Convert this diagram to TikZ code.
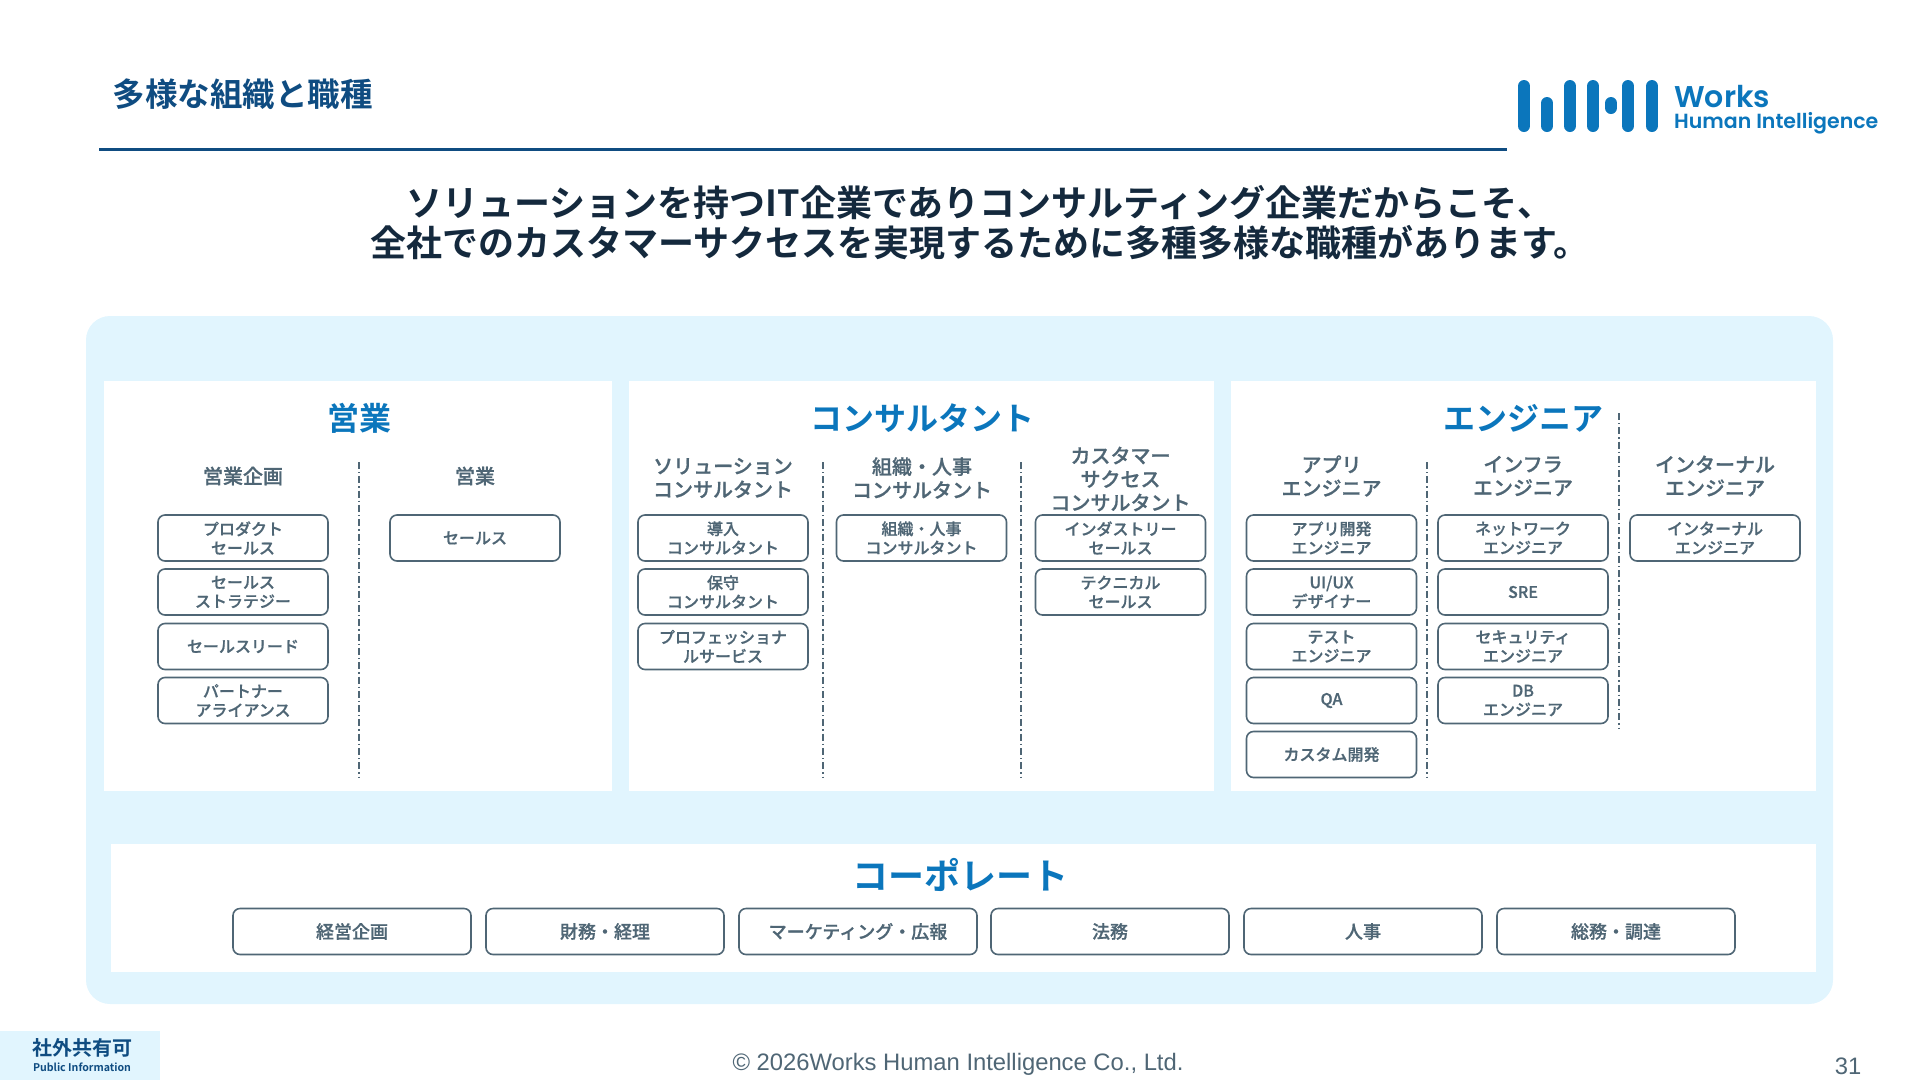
\documentclass[tikz,border=0pt]{standalone}
\usepackage{fontspec}
\setmainfont[BoldFont={Noto Sans CJK JP Bold}]{Noto Sans CJK JP}
\newfontfamily\medfont[FakeBold=0.7]{Noto Sans CJK JP Medium}
\newfontfamily\logofont{Poppins SemiBold}
\newfontfamily\footfont{Liberation Sans}
\usetikzlibrary{positioning}
\definecolor{navy}{HTML}{0F4C81}
\definecolor{brand}{HTML}{0B76BC}
\definecolor{ink}{HTML}{14293D}
\definecolor{slate}{HTML}{4F6675}
\definecolor{pale}{HTML}{E1F5FE}
\newcommand{\fs}[2]{\fontsize{#1}{#2}\selectfont}

\begin{document}
\begin{tikzpicture}[
  x=1pt, y=-1pt,
  every node/.style={inner sep=0pt, align=center},
  panel/.style={rectangle, fill=white, anchor=north west},
  sect/.style={font=\fs{32}{38}\bfseries, text=brand},
  head/.style={font=\medfont\fs{20}{23.5}, text=slate},
  job/.style={rectangle, draw=slate, line width=1.6pt, rounded corners=7pt, fill=white,
    minimum width=170pt, minimum height=46pt, font=\medfont\fs{16}{19}, text=slate},
  corp/.style={job, minimum width=238pt, font=\medfont\fs{18}{21}},
  sep/.style={draw=slate, line width=1.3pt, dash pattern=on 7pt off 3pt on 1.3pt off 3pt},
  bar/.style={draw=brand, line width=12pt, line cap=round}
]
\useasboundingbox (0,0) rectangle (1920,1080);

% --- header ---
\node[anchor=west, font=\fs{32.5}{38}\bfseries, text=navy] (ttl) at (112.5,94) {多様な組織と職種};
\coordinate (rulea) at (99,149);
\coordinate (ruleb) at (1507,149);
\draw[navy, line width=3pt] (rulea) -- (ruleb);
\node[font=\fs{36}{40}\bfseries, text=ink] (lead) at (980,223) {ソリューションを持つIT企業でありコンサルティング企業だからこそ、\\全社でのカスタマーサクセスを実現するために多種多様な職種があります。};

% --- logo ---
\draw[bar] (1524,86) -- (1524,126);
\draw[bar] (1547,103) -- (1547,126);
\draw[bar] (1570,86) -- (1570,126);
\draw[bar] (1593,86) -- (1593,126);
\draw[bar] (1611,103) -- (1611,108);
\draw[bar] (1628,86) -- (1628,126);
\draw[bar] (1652,86) -- (1652,126);
\node[anchor=base west, font=\logofont\fs{30}{31}, text=brand] (wks) at (1674,107) {Works};
\node[anchor=base west, font=\logofont\fs{20.5}{21}, text=brand] (whi) at (1674,128) {Human Intelligence};

% --- panels ---
\fill[pale, rounded corners=24pt] (86,316) rectangle (1833,1004);
\node[panel, minimum width=508pt, minimum height=410pt] (psales) at (104,381) {};
\node[panel, minimum width=585pt, minimum height=410pt] (pcons) at (629,381) {};
\node[panel, minimum width=585pt, minimum height=410pt] (peng) at (1231,381) {};
\node[panel, minimum width=1705pt, minimum height=128pt] (pcorp) at (111,844) {};

% --- section titles ---
\node[sect] (tsales) at (359,418) {営業};
\node[sect] (tcons) at (922,418) {コンサルタント};
\node[sect] (teng) at (1523,418) {エンジニア};
\node[sect, font=\fs{36}{40}\bfseries] (tcorp) at (960,875) {コーポレート};

% --- column heads ---
\node[head] (h1) at (243,476) {営業企画};
\node[head] (h2) at (475,476) {営業};
\node[head] (h3) at (723,478) {ソリューション\\コンサルタント};
\node[head] (h4) at (922,478) {組織・人事\\コンサルタント};
\node[head] (h5) at (1120.5,479) {カスタマー\\サクセス\\コンサルタント};
\node[head] (h6) at (1331.5,476) {アプリ\\エンジニア};
\node[head] (h7) at (1523,476) {インフラ\\エンジニア};
\node[head] (h8) at (1715,476) {インターナル\\エンジニア};

% --- sales ---
\node[job] (s1) at (243,538) {プロダクト\\セールス};
\node[job] (s2) at (243,592) {セールス\\ストラテジー};
\node[job] (s3) at (243,646.5) {セールスリード};
\node[job] (s4) at (243,700.5) {パートナー\\アライアンス};
\node[job] (s5) at (475,538) {セールス};

% --- consultants ---
\node[job] (c1) at (723,538) {導入\\コンサルタント};
\node[job] (c2) at (723,592) {保守\\コンサルタント};
\node[job] (c3) at (723,646.5) {プロフェッショナ\\ルサービス};
\node[job] (c4) at (921.5,538) {組織・人事\\コンサルタント};
\node[job] (c5) at (1120.5,538) {インダストリー\\セールス};
\node[job] (c6) at (1120.5,592) {テクニカル\\セールス};

% --- engineers ---
\node[job] (e1) at (1331.5,538) {アプリ開発\\エンジニア};
\node[job] (e2) at (1331.5,592) {UI/UX\\デザイナー};
\node[job] (e3) at (1331.5,646.5) {テスト\\エンジニア};
\node[job] (e4) at (1331.5,700.5) {QA};
\node[job] (e5) at (1331.5,754.5) {カスタム開発};
\node[job] (e6) at (1523,538) {ネットワーク\\エンジニア};
\node[job] (e7) at (1523,592) {SRE};
\node[job] (e8) at (1523,646.5) {セキュリティ\\エンジニア};
\node[job] (e9) at (1523,700.5) {DB\\エンジニア};
\node[job] (e10) at (1715,538) {インターナル\\エンジニア};

% --- corporate ---
\node[corp] (k1) at (352,931.5) {経営企画};
\node[corp] (k2) at (605,931.5) {財務・経理};
\node[corp] (k3) at (858,931.5) {マーケティング・広報};
\node[corp] (k4) at (1110,931.5) {法務};
\node[corp] (k5) at (1363,931.5) {人事};
\node[corp] (k6) at (1616,931.5) {総務・調達};

% --- dividers ---
\coordinate (d1a) at (359,462);  \coordinate (d1b) at (359,777);
\coordinate (d2a) at (823,462);  \coordinate (d2b) at (823,777);
\coordinate (d3a) at (1021,462); \coordinate (d3b) at (1021,777);
\coordinate (d4a) at (1427,462); \coordinate (d4b) at (1427,777);
\coordinate (d5a) at (1619,413); \coordinate (d5b) at (1619,729);
\draw[sep] (d1a) -- (d1b);
\draw[sep] (d2a) -- (d2b);
\draw[sep] (d3a) -- (d3b);
\draw[sep] (d4a) -- (d4b);
\draw[sep] (d5a) -- (d5b);

% --- footer ---
\node[rectangle, fill=pale, anchor=north west, minimum width=160pt, minimum height=49pt] (badge) at (0,1031) {};
\node[font=\fs{20}{22}\bfseries, text=navy] (pub) at (82,1048) {社外共有可};
\node[font=\fs{10.6}{13}\bfseries, text=navy] (pubb) at (82,1067) {Public Information};
\node[font=\footfont\fs{23.8}{26}, text=slate] (copy) at (958,1064) {© 2026Works Human Intelligence Co., Ltd.};
\node[font=\footfont\fs{23.8}{26}, text=slate] (page) at (1848,1066) {31};

\end{tikzpicture}
\end{document}
